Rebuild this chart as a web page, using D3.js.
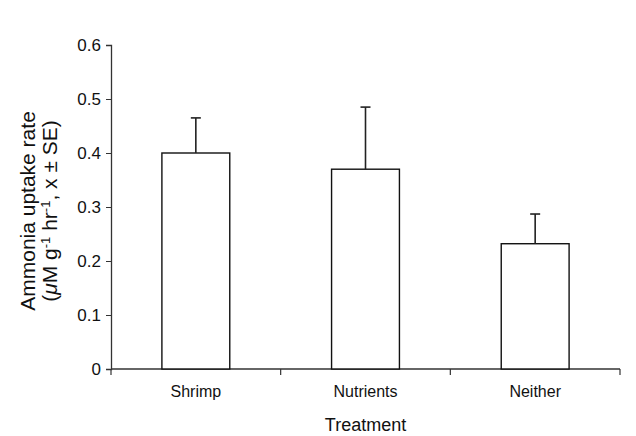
<!DOCTYPE html>
<html>
<head>
<meta charset="utf-8">
<script src="https://cdn.jsdelivr.net/npm/d3@7/dist/d3.min.js"></script>
<style>
  html, body { margin: 0; padding: 0; background: #fff; }
  svg { display: block; font-family: "Liberation Sans", Arial, Helvetica, sans-serif; }
</style>
</head>
<body>
<svg id="chart" width="636" height="436"></svg>
<script>
// Ammonia uptake by treatment (mean with upper SE bar)
const categories = ["Shrimp", "Nutrients", "Neither"];
const means = [0.40, 0.37, 0.232];
const stdErrors = [0.065, 0.115, 0.055];
const yTicks = [0, 0.1, 0.2, 0.3, 0.4, 0.5, 0.6];

const svg = d3.select("#chart");
const margin = { left: 111, right: 16, top: 45, bottom: 67 };
const width = 636 - margin.left - margin.right;
const height = 436 - margin.top - margin.bottom;

const g = svg.append("g").attr("transform", `translate(${margin.left},${margin.top})`);

const x = d3.scaleBand().domain(categories).range([0, width]).paddingInner(0.6).paddingOuter(0.3);
const y = d3.scaleLinear().domain([0, 0.6]).range([height, 0]);

// Y axis
const yAxis = g.append("g")
  .call(d3.axisLeft(y).tickValues(yTicks).tickSize(5).tickPadding(5)
    .tickFormat(d => d === 0 ? "0" : d3.format(".1f")(d)));
yAxis.select(".domain").attr("stroke", "#333").attr("stroke-width", 1.3);
yAxis.selectAll(".tick line").attr("stroke", "#333");
yAxis.selectAll("text").attr("font-size", 17).attr("fill", "#111");

// X axis: baseline with ticks at the category boundaries
const xBase = g.append("g").attr("transform", `translate(0,${height})`);
xBase.append("line").attr("x1", 0).attr("x2", width).attr("stroke", "#333").attr("stroke-width", 1.3);
const bounds = d3.range(categories.length + 1).map(i => i * width / categories.length);
xBase.selectAll("line.tk").data(bounds).join("line").attr("class", "tk")
  .attr("x1", d => d).attr("x2", d => d).attr("y1", 0).attr("y2", 6)
  .attr("stroke", "#333").attr("stroke-width", 1.2);
xBase.selectAll("text").data(categories).join("text")
  .attr("x", d => x(d) + x.bandwidth() / 2).attr("y", 28)
  .attr("text-anchor", "middle").attr("font-size", 16).attr("fill", "#111")
  .text(d => d);

// Bars
g.selectAll("rect.bar").data(categories).join("rect").attr("class", "bar")
  .attr("x", d => x(d)).attr("width", x.bandwidth())
  .attr("y", (d, i) => y(means[i])).attr("height", (d, i) => height - y(means[i]))
  .attr("fill", "#fff").attr("stroke", "#111").attr("stroke-width", 1.4);

// Upper error bars
const capHalf = 5;
g.selectAll("line.err").data(categories).join("line").attr("class", "err")
  .attr("x1", d => x(d) + x.bandwidth() / 2).attr("x2", d => x(d) + x.bandwidth() / 2)
  .attr("y1", (d, i) => y(means[i])).attr("y2", (d, i) => y(means[i] + stdErrors[i]))
  .attr("stroke", "#222").attr("stroke-width", 1.6);
g.selectAll("line.cap").data(categories).join("line").attr("class", "cap")
  .attr("x1", d => x(d) + x.bandwidth() / 2 - capHalf).attr("x2", d => x(d) + x.bandwidth() / 2 + capHalf)
  .attr("y1", (d, i) => y(means[i] + stdErrors[i])).attr("y2", (d, i) => y(means[i] + stdErrors[i]))
  .attr("stroke", "#222").attr("stroke-width", 1.6);

// Axis titles
svg.append("text")
  .attr("x", margin.left + width / 2).attr("y", 431)
  .attr("text-anchor", "middle").attr("font-size", 18).attr("fill", "#111")
  .text("Treatment");

const yTitle = svg.append("text")
  .attr("transform", `translate(0,${margin.top + height / 2 + 4}) rotate(-90)`)
  .attr("text-anchor", "middle").attr("font-size", 21).attr("fill", "#111");
yTitle.append("tspan").attr("x", 0).attr("y", 35).text("Ammonia uptake rate");
const l2 = yTitle.append("tspan").attr("x", 0).attr("y", 57);
l2.append("tspan").text("(");
l2.append("tspan").attr("font-style", "italic").text("\u03bc");
l2.append("tspan").text("M g");
l2.append("tspan").attr("baseline-shift", "super").attr("font-size", 13).text("-1");
l2.append("tspan").text(" hr");
l2.append("tspan").attr("baseline-shift", "super").attr("font-size", 13).text("-1");
l2.append("tspan").text(", x \u00b1 SE)");
</script>
</body>
</html>
